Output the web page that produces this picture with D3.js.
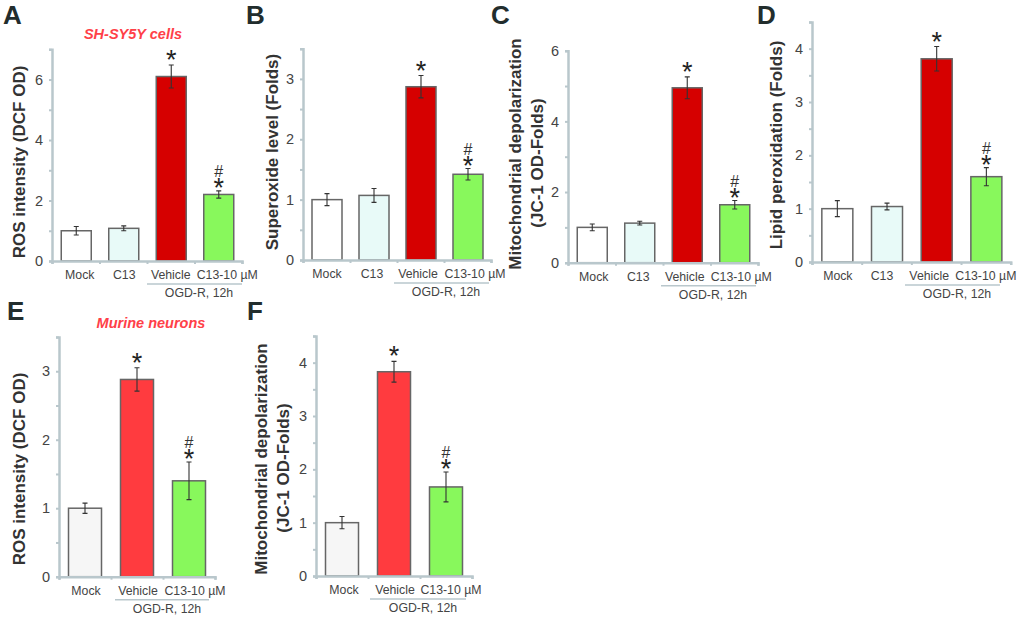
<!DOCTYPE html>
<html>
<head>
<meta charset="utf-8">
<script src="https://cdn.jsdelivr.net/npm/d3@7"></script>
<style>
    html, body { margin: 0; background: #fff; }
    svg { display: block; font-family: "Liberation Sans", Arial, sans-serif; }
    .axis path, .axis line { stroke: #b9c7cc; }
    .axis path { stroke-width: 2.5; }
    .axis line { stroke-width: 2; }
    .axis text { fill: #444; font-size: 14.5px; font-family: "Liberation Sans", Arial, sans-serif; }
</style>
</head>
<body>
<svg id="chart" width="1020" height="618"></svg>
<script>
// ---------- Data ----------
const fourGroups = ['Mock', 'C13', 'Vehicle', 'C13-10 µM'];
const threeGroups = ['Mock', 'Vehicle', 'C13-10 µM'];

const rosValues = [1.0, 1.08, 6.1, 2.2];
const rosErrors = [0.14, 0.08, 0.38, 0.12];
const superoxideValues = [1.0, 1.07, 2.87, 1.42];
const superoxideErrors = [0.1, 0.115, 0.185, 0.095];
const depolValues = [1.0, 1.12, 4.95, 1.64];
const depolErrors = [0.095, 0.055, 0.31, 0.12];
const lipidValues = [1.0, 1.04, 3.81, 1.6];
const lipidErrors = [0.15, 0.063, 0.23, 0.17];
const neuronRosValues = [1.0, 2.88, 1.4];
const neuronRosErrors = [0.075, 0.17, 0.275];
const neuronDepolValues = [1.0, 3.83, 1.67];
const neuronDepolErrors = [0.115, 0.195, 0.28];

const ticksHalf35 = [0, 0.5, 1, 1.5, 2, 2.5, 3, 3.5];
const ticksHalf45 = [0, 0.5, 1, 1.5, 2, 2.5, 3, 3.5, 4, 4.5];
const ticksOne7 = [0, 1, 2, 3, 4, 5, 6, 7];
const ticksOne6 = [0, 1, 2, 3, 4, 5, 6];

const fillsLine = ['#ffffff', '#e8faf8', '#d60000', '#88f85c'];
const fillsNeuron = ['#f6f6f6', '#ff3b3f', '#88f85c'];

// marks: 1 = star, 2 = star and hash
const marks4 = [0, 0, 1, 2];
const marks3 = [0, 1, 2];

// ---------- Panels ----------
const panels = [
    { letter: 'A', lx: 3, ly: 24, x0: 52, x1: 242, y0: 261, yTop: 49.3, max: 7, ticks: ticksOne7, labelEvery: 2,
      groups: fourGroups, values: rosValues, errors: rosErrors, fills: fillsLine, barW: 30,
      shift: [4, 1, 0, 9], br: [147, 242], ogdX: 199,
      title: ['ROS intensity (DCF OD)'], titleX: 19, titleY: 162,
      caption: 'SH-SY5Y cells', capX: 133, capY: 39 },
    { letter: 'B', lx: 246, ly: 24, x0: 303, x1: 491, y0: 260, yTop: 48.7, max: 3.5, ticks: ticksHalf35, labelEvery: 1,
      groups: fourGroups, values: superoxideValues, errors: superoxideErrors, fills: fillsLine, barW: 30,
      shift: [0.5, -1.5, -2.5, 7.5], br: [394, 489], ogdX: 446,
      title: ['Superoxide level (Folds)'], titleX: 272, titleY: 152 },
    { letter: 'C', lx: 491, ly: 24, x0: 568, x1: 758, y0: 262.7, yTop: 50.7, max: 6, ticks: ticksOne6, labelEvery: 2,
      groups: fourGroups, values: depolValues, errors: depolErrors, fills: fillsLine, barW: 30,
      shift: [2, -1, -2, 7], br: [661, 756], ogdX: 713,
      title: ['Mitochondrial depolarization', '(JC-1 OD-Folds)'], titleX: 515, titleY: 154 },
    { letter: 'D', lx: 757, ly: 24, x0: 812, x1: 1010.7, y0: 262, yTop: 22, max: 4.5, ticks: ticksHalf45, labelEvery: 1,
      groups: fourGroups, values: lipidValues, errors: lipidErrors, fills: fillsLine, barW: 31,
      shift: [1, -4.5, -7, 0], br: [905, 1000], ogdX: 957,
      title: ['Lipid peroxidation (Folds)'], titleX: 776, titleY: 145 },
    { letter: 'E', lx: 7, ly: 320, x0: 59, x1: 215, y0: 576.7, yTop: 337, max: 3.5, ticks: ticksHalf35, labelEvery: 1,
      groups: threeGroups, values: neuronRosValues, errors: neuronRosErrors, fills: fillsNeuron, barW: 33,
      shift: [1, 1, 6], br: [115, 209], ogdX: 167,
      title: ['ROS intensity (DCF OD)'], titleX: 19, titleY: 469,
      caption: 'Murine neurons', capX: 151, capY: 328 },
    { letter: 'F', lx: 247, ly: 320, x0: 316, x1: 472, y0: 576, yTop: 336, max: 4.5, ticks: ticksHalf45, labelEvery: 1,
      groups: threeGroups, values: neuronDepolValues, errors: neuronDepolErrors, fills: fillsNeuron, barW: 33,
      shift: [2, 1, 5], br: [370, 466], ogdX: 423,
      title: ['Mitochondrial depolarization', '(JC-1 OD-Folds)'], titleX: 261, titleY: 459 }
];

const svg = d3.select('#chart');

// ---------- Drawing ----------
function drawPanel(p) {
    const g = svg.append('g');
    const n = p.groups.length;

    const x = d3.scaleBand().domain(p.groups).range([p.x0, p.x1]);
    const y = d3.scaleLinear().domain([0, p.max]).range([p.y0, p.yTop]);
    const edge = d3.scaleLinear().domain([0, n]).range([p.x0, p.x1]);
    const nudge = n === 4 ? 0.5 : 0;
    const cx = d => x(d.name) + x.bandwidth() / 2 + nudge;

    // bars first, axes on top
    const bars = g.selectAll('g.bar')
        .data(p.groups.map((name, i) => ({ name, i, v: p.values[i], e: p.errors[i] })))
        .join('g')
        .attr('class', 'bar');

    bars.append('rect')
        .attr('x', d => cx(d) - p.barW / 2)
        .attr('y', d => y(d.v))
        .attr('width', p.barW)
        .attr('height', d => y(0) - y(d.v))
        .attr('fill', d => p.fills[d.i])
        .attr('stroke', '#666')
        .attr('stroke-width', 1.5);

    // error bars
    bars.append('path')
        .attr('d', d => {
            const t = y(d.v + d.e), b = y(d.v - d.e), c = cx(d);
            return `M${c - 2.5},${t}H${c + 2.5}M${c},${t}V${b}M${c - 2.5},${b}H${c + 2.5}`;
        })
        .attr('fill', 'none')
        .attr('stroke', '#333')
        .attr('stroke-width', 1.1);

    // significance marks
    const marks = n === 4 ? marks4 : marks3;
    bars.filter(d => marks[d.i] > 0).append('text')
        .attr('x', cx)
        .attr('y', d => y(d.v + d.e) - (marks[d.i] === 2 ? 7 : 9) + 13)
        .attr('text-anchor', 'middle')
        .attr('font-size', 27)
        .attr('fill', '#222')
        .text('*');
    bars.filter(d => marks[d.i] === 2).append('text')
        .attr('x', cx)
        .attr('y', d => y(d.v + d.e) - 14)
        .attr('text-anchor', 'middle')
        .attr('font-size', 16)
        .attr('fill', '#333')
        .text('#');

    // axes
    g.append('g')
        .attr('class', 'axis')
        .attr('transform', `translate(${p.x0},0)`)
        .call(d3.axisLeft(y)
            .tickValues(p.ticks)
            .tickSizeOuter(0)
            .tickSize(3)
            .tickPadding(6)
            .tickFormat(d => (Number.isInteger(d) && d % p.labelEvery === 0 ? d : '')));

    g.append('g')
        .attr('class', 'axis')
        .attr('transform', `translate(0,${p.y0})`)
        .call(d3.axisBottom(edge)
            .tickValues(d3.range(n + 1))
            .tickSizeOuter(0)
            .tickSize(3)
            .tickFormat(''));

    // category labels
    g.selectAll('text.cat')
        .data(p.groups)
        .join('text')
        .attr('class', 'cat')
        .attr('x', (d, i) => x(d) + x.bandwidth() / 2 + p.shift[i])
        .attr('y', p.y0 + 18)
        .attr('text-anchor', 'middle')
        .attr('font-size', 12.3)
        .attr('fill', '#444')
        .text(d => d);

    // OGD-R bracket
    g.append('line')
        .attr('x1', p.br[0]).attr('x2', p.br[1])
        .attr('y1', p.y0 + 23).attr('y2', p.y0 + 23)
        .attr('stroke', '#b9c7cc')
        .attr('stroke-width', 1.5);
    g.append('text')
        .attr('x', p.ogdX)
        .attr('y', p.y0 + 36)
        .attr('text-anchor', 'middle')
        .attr('font-size', 12.3)
        .attr('fill', '#444')
        .text('OGD-R, 12h');

    // y title
    p.title.forEach((line, i) => {
        g.append('text')
            .attr('transform', `translate(${p.titleX + i * 21.5 + 6},${p.titleY + i * 9}) rotate(-90)`)
            .attr('text-anchor', 'middle')
            .attr('font-size', 17)
            .attr('font-weight', 'bold')
            .attr('fill', '#333')
            .text(line);
    });

    // panel letter
    g.append('text')
        .attr('x', p.lx).attr('y', p.ly)
        .attr('font-size', 26)
        .attr('font-weight', 'bold')
        .attr('fill', '#222d2d')
        .text(p.letter);

    if (p.caption) {
        g.append('text')
            .attr('x', p.capX).attr('y', p.capY)
            .attr('text-anchor', 'middle')
            .attr('font-size', 14.5)
            .attr('font-weight', 'bold')
            .attr('font-style', 'italic')
            .attr('fill', '#ff4048')
            .text(p.caption);
    }
}

panels.forEach(drawPanel);
</script>
</body>
</html>
